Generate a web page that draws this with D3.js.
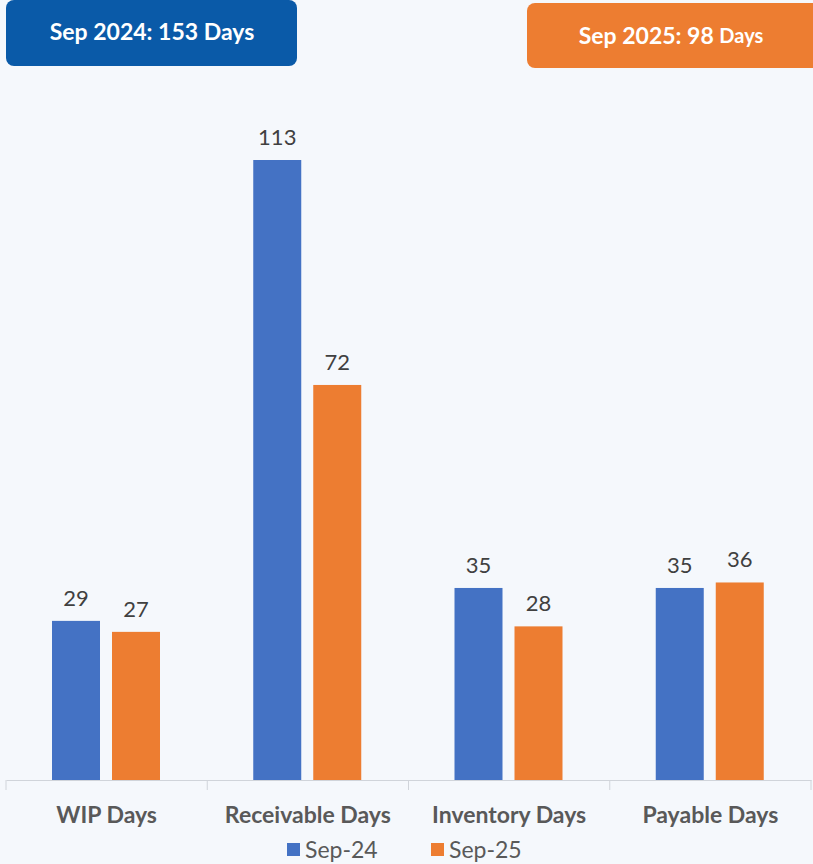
<!DOCTYPE html>
<html>
<head>
<meta charset="utf-8">
<title>Working Capital Days</title>
<script src="https://d3js.org/d3.v7.min.js"></script>
<style>
 html, body { margin: 0; padding: 0; background: #f5f8fc; }
 svg { display: block; font-family: Lato, "Open Sans", sans-serif; }
</style>
</head>
<body>
<div id="chart"></div>
<script>
const categories = ["WIP Days", "Receivable Days", "Inventory Days", "Payable Days"];
const seriesNames = ["Sep-24", "Sep-25"];
const sep24 = [29, 113, 35, 35];
const sep25 = [27, 72, 28, 36];
const colors = ["#4472c4", "#ed7d31"];

const W = 813, H = 864;
const svg = d3.select("#chart").append("svg").attr("width", W).attr("height", H);

// header badges
const badges = [
  {x: 6, y: 0, w: 291, h: 66, fill: "#0a5aa8", cx: 152, cy: 34, main: "Sep 2024: 153 Days", tail: ""},
  {x: 527, y: 3, w: 300, h: 65, fill: "#ed7d31", cx: 671, cy: 38, main: "Sep 2025: 98 ", tail: "Days"}
];
badges.forEach(b => {
  svg.append("rect").attr("x", b.x).attr("y", b.y).attr("width", b.w).attr("height", b.h)
     .attr("rx", 8).attr("fill", b.fill);
  const t = svg.append("text").attr("x", b.cx).attr("y", b.cy).attr("text-anchor", "middle")
     .attr("dominant-baseline", "middle").attr("fill", "#fff").attr("font-weight", "bold")
     .attr("font-size", 23);
  t.append("tspan").text(b.main);
  if (b.tail) t.append("tspan").attr("font-size", 20).text(b.tail);
});

const base = 780;
const x0 = d3.scaleBand().domain(categories).range([6, 811]);
const x1 = d3.scaleBand().domain(seriesNames).range([52, 160]).paddingInner(0.2).paddingOuter(0);
const y = d3.scaleLinear().domain([0, 113]).range([base, 160]);

// axis
const axis = svg.append("g").attr("transform", `translate(0,${base})`)
  .call(d3.axisBottom(x0).tickSize(0).tickPadding(0));
axis.select(".domain").attr("stroke", "#d0d4da");
axis.selectAll(".tick text").remove();
[...categories.map(c => x0(c)), x0.range()[1]].forEach(px => {
  svg.append("line").attr("x1", px).attr("x2", px).attr("y1", base).attr("y2", base + 10)
     .attr("stroke", "#d0d4da");
});
svg.selectAll(".cat").data(categories).join("text")
  .attr("x", d => x0(d) + x0.bandwidth() / 2).attr("y", 823)
  .attr("text-anchor", "middle").attr("font-weight", "bold").attr("font-size", 23)
  .attr("fill", "#595959").text(d => d);

const data = categories.map((c, i) => ({cat: c, vals: [sep24[i], sep25[i]]}));
const groups = svg.selectAll(".grp").data(data).join("g")
  .attr("transform", d => `translate(${x0(d.cat) - x0.range()[0]},0)`);
groups.selectAll("rect").data(d => d.vals.map((v, j) => ({v, s: seriesNames[j], j})))
  .join("rect")
  .attr("x", d => x1(d.s)).attr("width", x1.bandwidth())
  .attr("y", d => y(d.v)).attr("height", d => base - y(d.v))
  .attr("fill", d => colors[d.j]);
groups.selectAll("text").data(d => d.vals.map((v, j) => ({v, s: seriesNames[j], j})))
  .join("text")
  .attr("x", d => x1(d.s) + x1.bandwidth() / 2).attr("y", d => y(d.v) - 15)
  .attr("text-anchor", "middle").attr("font-size", 22).attr("fill", "#404040")
  .text(d => d.v);

// legend
const legend = svg.append("g");
const legX = [287, 431];
seriesNames.forEach((s, i) => {
  legend.append("rect").attr("x", legX[i]).attr("y", 843).attr("width", 13).attr("height", 13)
    .attr("fill", colors[i]);
  legend.append("text").attr("x", legX[i] + 18).attr("y", 858).attr("font-size", 23)
    .attr("fill", "#595959").text(s);
});
</script>
</body>
</html>
